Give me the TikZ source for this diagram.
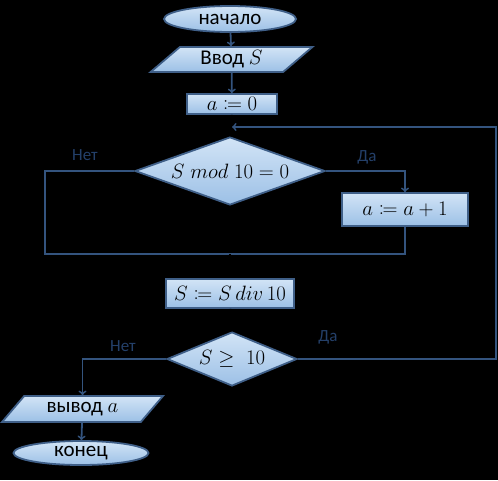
\documentclass[tikz,border=0pt]{standalone}
\usepackage{mathtools}
\usepackage{fontspec}
\setmainfont{Carlito}
\usetikzlibrary{shapes.geometric}

\definecolor{trait}{HTML}{34547E}
\definecolor{bord}{HTML}{3F5F88}
\definecolor{haut}{HTML}{D2E4F6}
\definecolor{bas}{HTML}{9CC0E6}
\definecolor{etiq}{HTML}{24406A}

\begin{document}
\begin{tikzpicture}[x=1pt, y=-1pt, line width=1.8pt,
  bloc/.style={draw=bord, top color=haut, bottom color=bas, inner sep=0pt,
    font=\fontsize{21}{25}\selectfont},
  boite/.style={bloc, rectangle},
  ovale/.style={bloc, ellipse},
  losange/.style={bloc, diamond},
  para/.style={bloc, trapezium, trapezium left angle=45,
    trapezium right angle=135, trapezium stretches=true},
  fleche/.style={draw=trait, ->},
  lien/.style={draw=trait},
  cache/.style={draw=black},
  etiquette/.style={text=etiq, font=\fontsize{17}{20}\selectfont}]

\fill[black] (0,0) rectangle (498,480);

\node[ovale, minimum width=132pt, minimum height=26pt] (debut) at (230,19) {начало};
\node[para, minimum width=163pt, minimum height=25pt] (entree) at (231.5,59.5) {Ввод $S$};
\node[boite, minimum width=90pt, minimum height=20pt] (init) at (232,104) {$a\coloneqq 0$};
\node[losange, shape aspect=2.8, minimum width=190pt, minimum height=68pt] (test1) at (230,171) {$S\;mod\;10=0$};
\node[boite, minimum width=126pt, minimum height=33pt] (incr) at (405,209.5) {$a\coloneqq a+1$};
\node[boite, minimum width=128pt, minimum height=29pt] (divi) at (230,293.5) {$S\coloneqq S\,div\,10$};
\node[losange, shape aspect=2.4, minimum width=130pt, minimum height=54pt] (test2) at (232,359) {$S\geq\;10$};
\node[para, minimum width=161pt, minimum height=26pt] (sortie) at (82.5,409) {вывод $a$};
\node[ovale, minimum width=135pt, minimum height=24pt] (fin) at (81,453) {конец};

\node[etiquette] (non1) at (85,155) {Нет};
\node[etiquette] (oui1) at (367,157) {Да};
\node[etiquette] (oui2) at (328,337) {Да};
\node[etiquette] (non2) at (123,346) {Нет};

\coordinate (retour) at (init.south |- 0,127);
\coordinate (coin) at (496,127);
\coordinate (gauche) at (45,254);
\coordinate (droite) at (incr.south |- gauche);
\coordinate (milieu) at (divi.north |- gauche);

\draw[fleche] (debut) -- (entree);
\draw[fleche] (entree) -- (init);
\draw[cache] (init) -- (test1);
\draw[fleche] (test1.east) -| (incr.north);
\draw[lien] (test1.west) -| (gauche) -- (droite) -- (incr.south);
\draw[cache] (milieu) -- (divi);
\draw[cache] (divi) -- (test2);
\draw[fleche] (test2.east) -| (coin) -- (retour);
\draw[fleche] (test2.west) -| (sortie.north);
\draw[fleche] (sortie) -- (fin);

\end{tikzpicture}
\end{document}
